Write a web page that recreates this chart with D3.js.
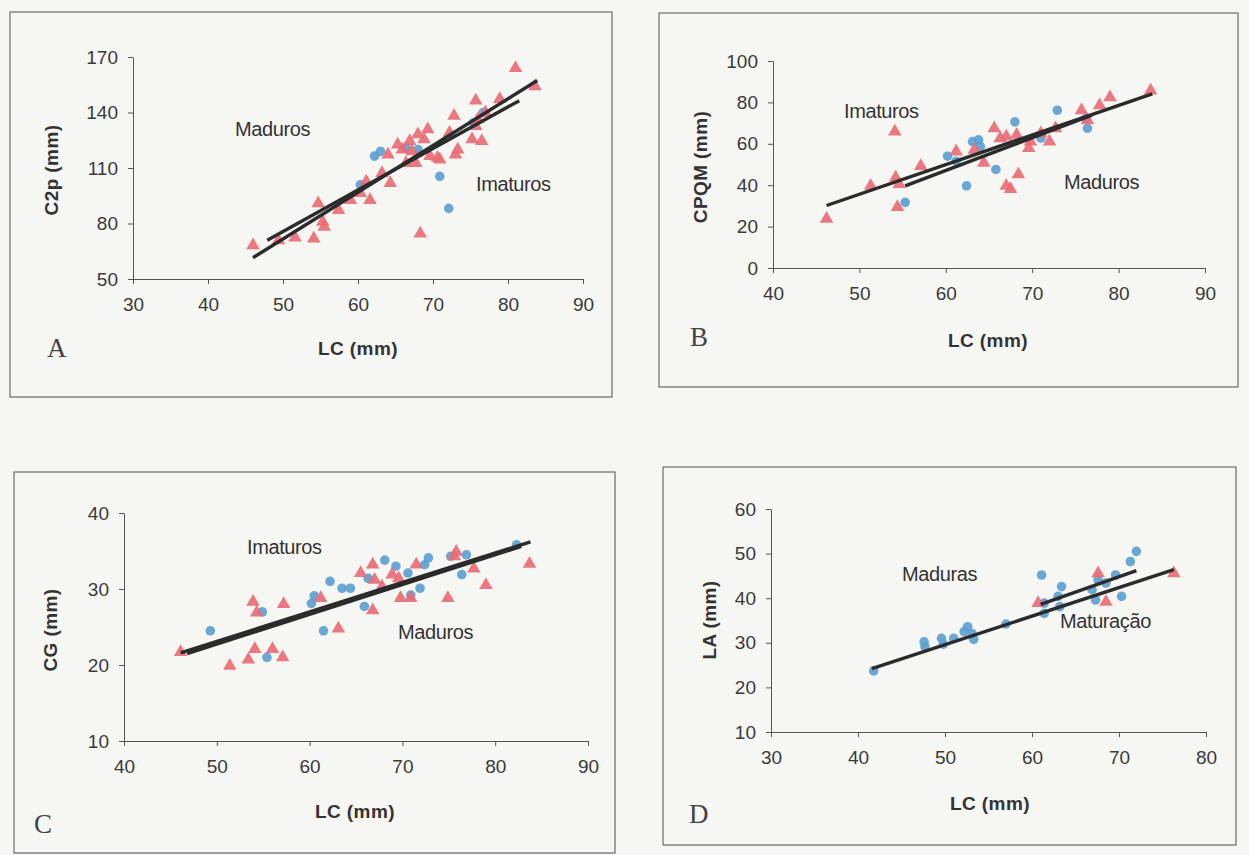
<!DOCTYPE html>
<html lang="pt">
<head>
    <meta charset="UTF-8">
    <title>Relações morfométricas - LC</title>
    <style>
        body {
            margin: 0;
            background-color: #f6f6f3;
        }
        svg {
            display: block;
        }
        text {
            font-family: "Liberation Sans", Arial, sans-serif;
            fill: #333;
        }
        .tick text {
            font-size: 19px;
            fill: #3a3a3a;
        }
        .domain, .tick line {
            stroke: #555;
        }
        .titulo {
            font-size: 19px;
            font-weight: bold;
            letter-spacing: 0.4px;
        }
        .nota {
            font-size: 20px;
            letter-spacing: -0.4px;
        }
        .letra {
            font-family: "Liberation Serif", "Times New Roman", serif;
            font-size: 27px;
            fill: #444;
        }
    </style>
    <script src="https://d3js.org/d3.v7.min.js"></script>
</head>
<body>
    <svg width="1249" height="855"></svg>

    <script>
        // A: C2p x LC
        const vermelhoA = [[46,68.2],[49.4,70.9],[51.6,72.4],[54.1,71.8],[54.7,90.9],[55.3,80.9],[55.5,78.2],
            [57.4,87.3],[59,92.7],[60.3,96.4],[61.1,102.7],[61.6,92.7],[63.2,107.3],[64,117.3],[64.3,101.8],
            [65.3,122.7],[65.9,120],[66.4,112.7],[66.9,124.5],[67.2,119],[67.7,112.7],[68,128.2],[68.3,74.5],
            [68.8,125.5],[69.3,130.9],[69.6,116.4],[70.6,115.5],[70.9,114.5],[72.2,129],[72.8,138.2],[73,117.3],
            [73.3,120],[75.2,125.5],[75.7,146.4],[75.7,132.7],[76,136.4],[76.5,124.5],[77,140],[78.9,147.3],
            [81,164],[83.6,154.2]];
        const azulA = [[60.3,100.9],[62.2,116.4],[63,119],[66.4,120.9],[68,120],[70.9,105.5],[72.1,88.2],
            [75.4,134.5],[76.7,140]];
        const retasA = [[[46,61.5],[83.9,157.3]], [[47.9,70.9],[81.5,146.4]]];

        // B: CPQM x LC
        const vermelhoB = [[46.2,23.8],[51.3,39.7],[54.1,65.9],[54.2,43.7],[54.4,29.4],[54.6,40.5],[57.1,49.2],
            [61.2,56.3],[63.3,57.1],[64.4,50.8],[65.6,67.5],[66.3,62.7],[67,63.5],[67,39.7],[67.5,38.1],
            [68.2,64.3],[68.4,45.2],[69.6,57.9],[69.8,61.1],[71,65.1],[72,61.1],[72.7,67.5],[75.7,76.2],
            [76.4,71.4],[77.8,78.6],[79,82.5],[83.7,85.7]];
        const azulB = [[55.3,31.7],[60.2,54],[61.2,51.6],[62.4,39.7],[63.1,61.1],[63.8,61.9],[64,58.7],
            [65.8,47.6],[68,70.6],[71,62.7],[72.9,76.2],[76.2,72.2],[76.4,67.5]];
        const retasB = [[[46.2,30.2],[83.9,84.1]], [[55.3,39.7],[76.9,73.8]]];

        // C: CG x LC
        const vermelhoC = [[46.1,21.7],[51.4,19.9],[53.4,20.7],[53.9,28.3],[54.1,22.1],[54.3,26.9],[56,22.1],
            [57.1,21],[57.2,28],[61.2,28.8],[63.1,24.8],[65.5,32.1],[66.8,27.2],[67,31.2],[66.8,33.2],
            [67.8,30.3],[68.9,31.9],[69.6,31.4],[69.8,28.8],[70.9,28.8],[71.5,33.2],[74.9,28.8],[75.6,34.3],
            [75.8,34.9],[77.7,32.7],[79,30.5],[83.7,33.3]];
        const azulC = [[49.3,24.5],[54.9,27],[55.4,21],[60.2,28.1],[60.5,29.1],[61.5,24.5],[62.2,31],
            [63.5,30.1],[64.4,30.1],[65.9,27.7],[66.3,31.4],[68.1,33.8],[69.3,33],[70.6,32.1],[70.9,29.2],
            [71.9,30.1],[72.4,33.2],[72.8,34.1],[75.2,34.3],[76.4,31.9],[76.9,34.5],[82.3,35.8]];
        const retasC = [[[46.1,21.6],[83.8,36.2]], [[46.8,21.5],[82.8,35.6]]];

        // D: LA x LC
        const vermelhoD = [[60.7,38.9],[67.6,45.6],[68.5,39.2],[76.3,45.6]];
        const azulD = [[41.8,23.7],[47.6,30.2],[47.7,29.1],[49.6,31],[49.8,29.7],[51,31],[52.2,32.5],
            [52.6,33.6],[53.1,32.1],[53.3,30.8],[57,34.2],[61.1,45.2],[61.4,36.6],[61.4,38.9],[63,40.4],
            [63.2,38.1],[63.4,42.6],[66.9,41.9],[67.3,39.6],[67.6,44.1],[68.5,43.4],[69.6,45.2],[70.3,40.4],
            [71.3,48.2],[72,50.5]];
        const retasD = [[[41.6,24.2],[76.3,46.4]], [[61,38.6],[72,46.2]]];

        const ticksA = [50, 80, 110, 140, 170];
        const ticksB = [0, 20, 40, 60, 80, 100];
        const ticksC = [10, 20, 30, 40];
        const ticksD = [10, 20, 30, 40, 50, 60];

        const svg = d3.select("svg");

        const paineis = [
            { letra: "A", ytit: "C2p (mm)", xdom: [30, 90], ydom: [50, 170], yt: ticksA,
              vermelho: vermelhoA, azul: azulA, retas: retasA,
              moldura: [10, 12, 612, 397], px: [133, 583], py: [279, 57],
              letraPos: [47, 357], xtitPos: [358, 355], ytitPos: [51, 170],
              notas: [["Maduros", 235, 136], ["Imaturos", 476, 191]] },
            { letra: "B", ytit: "CPQM (mm)", xdom: [40, 90], ydom: [0, 100], yt: ticksB,
              vermelho: vermelhoB, azul: azulB, retas: retasB,
              moldura: [659, 13, 1238, 387], px: [773, 1205], py: [268, 61],
              letraPos: [690, 346], xtitPos: [988, 347], ytitPos: [700, 167],
              notas: [["Imaturos", 844, 118], ["Maduros", 1064, 189]] },
            { letra: "C", ytit: "CG (mm)", xdom: [40, 90], ydom: [10, 40], yt: ticksC,
              vermelho: vermelhoC, azul: azulC, retas: retasC,
              moldura: [14, 472, 615, 853], px: [124, 588], py: [741, 513],
              letraPos: [34, 833], xtitPos: [355, 818], ytitPos: [50, 630],
              notas: [["Imaturos", 247, 554], ["Maduros", 398, 639]] },
            { letra: "D", ytit: "LA (mm)", xdom: [30, 80], ydom: [10, 60], yt: ticksD,
              vermelho: vermelhoD, azul: azulD, retas: retasD,
              moldura: [663, 467, 1236, 845], px: [771, 1206], py: [732, 509],
              letraPos: [689, 823], xtitPos: [990, 810], ytitPos: [709, 620],
              notas: [["Maduras", 902, 581], ["Maturação", 1060, 628]] }
        ];

        function desenharPainel(p) {
            const g = svg.append("g");

            // moldura do gráfico
            const m = p.moldura;
            g.append("rect")
                .attr("x", m[0]).attr("y", m[1])
                .attr("width", m[2] - m[0]).attr("height", m[3] - m[1])
                .attr("fill", "none")
                .attr("stroke", "#6a6a6a")
                .attr("stroke-width", 1.2);

            const x = d3.scaleLinear().domain(p.xdom).range(p.px);
            const y = d3.scaleLinear().domain(p.ydom).range(p.py);

            g.append("g")
                .attr("transform", `translate(0,${p.py[0]})`)
                .call(d3.axisBottom(x).ticks(6).tickSize(5).tickSizeOuter(0).tickPadding(14));

            g.append("g")
                .attr("transform", `translate(${p.px[0]},0)`)
                .call(d3.axisLeft(y).tickValues(p.yt).tickSize(5).tickSizeOuter(0).tickPadding(10));

            // pontos
            g.selectAll("circle")
                .data(p.azul)
                .enter().append("circle")
                .attr("cx", d => x(d[0]))
                .attr("cy", d => y(d[1]))
                .attr("r", 4.8)
                .attr("fill", "#5a9fd0")
                .attr("opacity", 0.9);

            const tri = d3.symbol().type(d3.symbolTriangle).size(80);
            g.selectAll("path.tri")
                .data(p.vermelho)
                .enter().append("path")
                .attr("class", "tri")
                .attr("d", tri)
                .attr("transform", d => `translate(${x(d[0])},${y(d[1])})`)
                .attr("fill", "#ea6a74")
                .attr("opacity", 0.9);

            // retas de regressão, por cima dos pontos
            const linha = d3.line().x(d => x(d[0])).y(d => y(d[1]));
            g.selectAll("path.reta")
                .data(p.retas)
                .enter().append("path")
                .attr("class", "reta")
                .attr("d", linha)
                .attr("fill", "none")
                .attr("stroke", "#2b2b2b")
                .attr("stroke-width", 3.4);

            // textos
            g.append("text")
                .attr("class", "titulo")
                .attr("x", p.xtitPos[0]).attr("y", p.xtitPos[1])
                .attr("text-anchor", "middle")
                .text("LC (mm)");

            g.append("text")
                .attr("class", "titulo")
                .attr("transform", `translate(${p.ytitPos[0]},${p.ytitPos[1]}) rotate(-90)`)
                .attr("text-anchor", "middle")
                .attr("dy", "0.35em")
                .text(p.ytit);

            g.append("text")
                .attr("class", "letra")
                .attr("x", p.letraPos[0]).attr("y", p.letraPos[1])
                .text(p.letra);

            g.selectAll("text.nota")
                .data(p.notas)
                .enter().append("text")
                .attr("class", "nota")
                .attr("x", d => d[1]).attr("y", d => d[2])
                .text(d => d[0]);
        }

        paineis.forEach(desenharPainel);
    </script>
</body>
</html>
